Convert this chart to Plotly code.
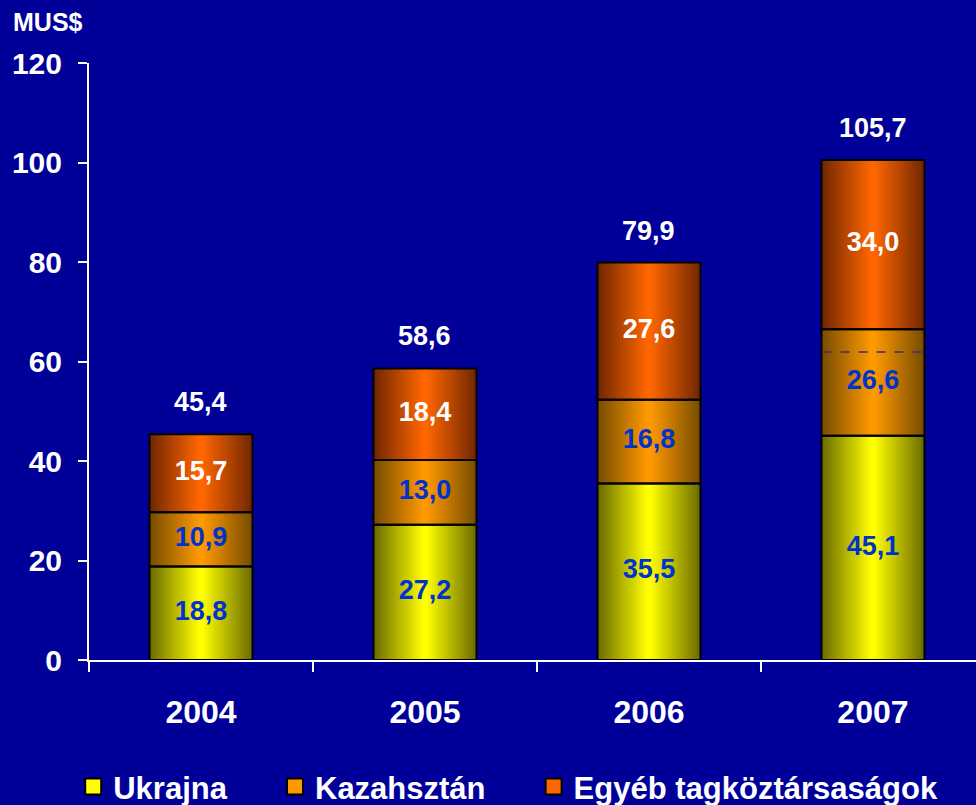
import plotly.graph_objects as go

# ── Data (MUS$) ──────────────────────────────────────────────
years = ["2004", "2005", "2006", "2007"]
ukrajna = [18.8, 27.2, 35.5, 45.1]
kazahsztan = [10.9, 13.0, 16.8, 26.6]
egyeb = [15.7, 18.4, 27.6, 34.0]
# in the original the 2007 Kazakhstan block is drawn shorter than its label
kazahsztan_drawn = [10.9, 13.0, 16.8, 21.4]
kazahsztan_dash_2007 = 61.9
y_ticks = [0, 20, 40, 60, 80, 100, 120]

BG = "#000099"
BAR_W = 0.46
LAYERS = 16
FONT = "Liberation Sans, Arial, sans-serif"
PAD = "\u00a0" * 5  # extra room between legend entries


def fmt(v):
    return f"{v:.1f}".replace(".", ",")


def blend(c1, c2, t):
    a = [int(c1[i:i + 2], 16) for i in (1, 3, 5)]
    b = [int(c2[i:i + 2], 16) for i in (1, 3, 5)]
    return "rgb(%d,%d,%d)" % tuple(round(x + (y - x) * t) for x, y in zip(a, b))


base_kaz = ukrajna
base_egy = [u + k for u, k in zip(ukrajna, kazahsztan_drawn)]
tops = [b + e for b, e in zip(base_egy, egyeb)]

series = [
    # name, drawn values, base, labels, label colour, edge colour, centre colour
    ("Ukrajna", ukrajna, [0] * len(years), ukrajna, "#0033CC", "#6E6E00", "#FFFF00"),
    ("Kazahsztán", kazahsztan_drawn, base_kaz, kazahsztan, "#0033CC", "#7A4E00", "#FF9900"),
    ("Egyéb tagköztársaságok", egyeb, base_egy, egyeb, "white", "#742800", "#FF6600"),
]

fig = go.Figure()

# gradient fill: nested bars getting narrower and brighter towards the centre
for name, vals, base, labels, lc, edge, centre in series:
    for k in range(LAYERS):
        fig.add_trace(go.Bar(
            x=years, y=vals, base=base,
            width=BAR_W * (1 - k / LAYERS),
            marker=dict(color=blend(edge, centre, k / (LAYERS - 1)), line_width=0),
            showlegend=False, hoverinfo="skip",
        ))

# black outlines on top of the fills
for name, vals, base, labels, lc, edge, centre in series:
    fig.add_trace(go.Bar(
        x=years, y=vals, base=base, width=BAR_W,
        marker=dict(color="rgba(0,0,0,0)", line=dict(color="black", width=2)),
        showlegend=False,
        hovertemplate=name + " %{x}: %{y}<extra></extra>",
    ))

# segment labels
for name, vals, base, labels, lc, edge, centre in series:
    fig.add_trace(go.Scatter(
        x=years, y=[b + v / 2 for b, v in zip(base, vals)],
        mode="text", text=[fmt(v) for v in labels],
        textfont=dict(size=27, color=lc, family=FONT, weight="bold"),
        showlegend=False, hoverinfo="skip",
    ))

# legend entries
for i, (name, vals, base, labels, lc, edge, centre) in enumerate(series):
    fig.add_trace(go.Scatter(
        x=years, y=[None] * len(years), mode="markers",
        name=name + (PAD if i < len(series) - 1 else ""),
        marker=dict(symbol="square", size=16, color=centre,
                    line=dict(color="black", width=2)),
    ))

# totals above the bars (category index used as x position)
totals = [round(u + k + e, 1) for u, k, e in zip(ukrajna, kazahsztan, egyeb)]
annotations = [
    dict(x=i, y=top, text=fmt(t), showarrow=False, yshift=32,
         font=dict(size=27, color="white", family=FONT, weight="bold"))
    for i, (top, t) in enumerate(zip(tops, totals))
]
annotations.append(dict(
    x=-0.088, y=1.069, xref="paper", yref="paper", xanchor="left",
    yanchor="middle", text="MUS$", showarrow=False,
    font=dict(size=25, color="white", family=FONT, weight="bold"),
))

fig.add_shape(
    type="line", x0=3 - BAR_W / 2 + 0.005, x1=3 + BAR_W / 2 - 0.005,
    y0=kazahsztan_dash_2007, y1=kazahsztan_dash_2007,
    line=dict(color="#3A2A80", width=1.5, dash="dash"),
)

fig.update_layout(
    barmode="overlay",
    width=976, height=805,
    paper_bgcolor=BG, plot_bgcolor=BG,
    font=dict(family=FONT, color="white"),
    margin=dict(l=89, r=0, t=63, b=145),
    annotations=annotations,
    legend=dict(
        orientation="h", xref="container", yref="container",
        x=0.075, y=0.0224, xanchor="left", yanchor="middle",
        font=dict(size=31, color="white", family=FONT, weight="bold"),
        bgcolor="rgba(0,0,0,0)",
    ),
    xaxis=dict(
        type="category", range=[-0.5, 3.46],
        showline=True, linecolor="white", linewidth=2,
        ticks="outside", tickson="boundaries", ticklen=10,
        tickcolor="white", tickwidth=2, ticklabelstandoff=23,
        tickfont=dict(size=32, color="white", family=FONT, weight="bold"),
        showgrid=False, zeroline=False, automargin=False,
    ),
    yaxis=dict(
        range=[0, 120], tickvals=y_ticks,
        showline=True, linecolor="white", linewidth=2,
        ticks="outside", ticklen=9, tickcolor="white", tickwidth=2,
        ticklabelstandoff=10,
        tickfont=dict(size=30, color="white", family=FONT, weight="bold"),
        showgrid=False, zeroline=False, automargin=False,
    ),
)

fig.write_html(
    "out.html",
    config={"displayModeBar": False},
    post_script="document.body.style.margin = '0';",
)
